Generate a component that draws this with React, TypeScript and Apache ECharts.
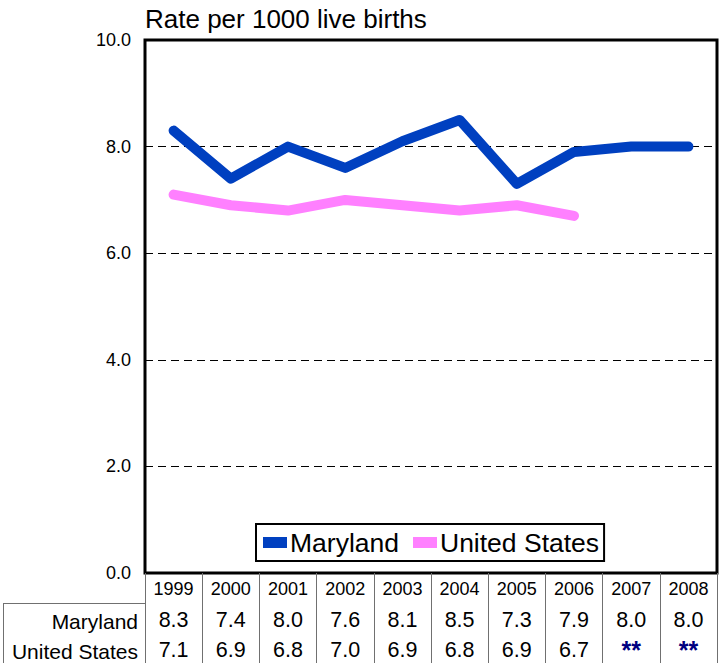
import React, { useEffect, useRef } from "react";
import * as echarts from "echarts";

const years = ["1999", "2000", "2001", "2002", "2003", "2004", "2005", "2006", "2007", "2008"];
const maryland = [8.3, 7.4, 8.0, 7.6, 8.1, 8.5, 7.3, 7.9, 8.0, 8.0];
const unitedStates: (number | null)[] = [7.1, 6.9, 6.8, 7.0, 6.9, 6.8, 6.9, 6.7, null, null];
const yTicks = { min: 0, max: 10, interval: 2 };
const titleText = "Rate per 1000 live births";
const seriesNames = ["Maryland", "United States"];

const FONT = "'Liberation Sans', Arial, sans-serif";

export default function App() {
  const ref = useRef<HTMLDivElement>(null);
  useEffect(() => {
    if (!ref.current) return;
    const chart = echarts.init(ref.current, undefined, { renderer: "svg" });
    const fmt = (v: number | null) => (v == null ? "{star|**}" : v.toFixed(1));
    const valueAxis = (data: string[], offset: number) => ({
      type: "category",
      data,
      position: "bottom",
      offset,
      gridIndex: 0,
      axisLine: { show: false },
      axisTick: { show: false },
      axisLabel: {
        interval: 0,
        margin: 6,
        fontSize: 21.5,
        color: "#000",
        fontFamily: FONT,
        rich: {
          star: { color: "#000080", fontWeight: "bold", fontSize: 25, lineHeight: 19, padding: [3, 0, 0, 0], fontFamily: FONT },
        },
      },
    });
    chart.setOption({
      animation: false,
      textStyle: { fontFamily: FONT },
      title: {
        text: titleText,
        left: 145,
        top: 6,
        padding: 0,
        textStyle: { fontSize: 26, fontWeight: "normal", color: "#000", fontFamily: FONT },
      },
      grid: {
        left: 145,
        right: 3,
        top: 40,
        bottom: 90,
        show: true,
        containLabel: false,
        outerBoundsMode: "none",
        borderColor: "#000",
        borderWidth: 3,
        backgroundColor: "transparent",
      },
      legend: {
        left: 256,
        top: 524,
        orient: "horizontal",
        data: seriesNames,
        icon: "rect",
        itemWidth: 24,
        itemHeight: 11,
        itemGap: 14,
        borderColor: "#000",
        borderWidth: 2,
        padding: [5, 5, 5, 7],
        backgroundColor: "#fff",
        textStyle: { fontSize: 26.5, color: "#000", fontFamily: FONT, padding: [0, 0, 0, -2] },
      },
      xAxis: [
        {
          type: "category",
          data: years,
          position: "bottom",
          boundaryGap: true,
          axisLine: { show: false },
          axisTick: { show: true, length: 90, lineStyle: { color: "#707070", width: 1 } },
          axisLabel: { interval: 0, margin: 7, fontSize: 18, color: "#000", fontFamily: FONT },
        },
        valueAxis(maryland.map(fmt), 30),
        valueAxis(unitedStates.map(fmt), 60),
      ],
      yAxis: {
        type: "value",
        min: yTicks.min,
        max: yTicks.max,
        interval: yTicks.interval,
        axisLine: { show: false },
        axisTick: { show: false },
        axisLabel: {
          formatter: (v: number) => v.toFixed(1),
          fontSize: 18,
          color: "#000",
          margin: 14,
          fontFamily: FONT,
        },
        splitLine: { lineStyle: { color: "#000", width: 1, type: [8, 5] } },
      },
      graphic: [
        { type: "line", shape: { x1: 3, y1: 603.5, x2: 145, y2: 603.5 }, style: { stroke: "#707070", lineWidth: 1 } },
        { type: "line", shape: { x1: 3.5, y1: 603, x2: 3.5, y2: 663 }, style: { stroke: "#707070", lineWidth: 1 } },
        {
          type: "text",
          x: 138,
          y: 621,
          style: { text: seriesNames[0], fontSize: 21, fill: "#000", align: "right", verticalAlign: "middle", fontFamily: FONT },
        },
        {
          type: "text",
          x: 138,
          y: 651,
          style: { text: seriesNames[1], fontSize: 21, fill: "#000", align: "right", verticalAlign: "middle", fontFamily: FONT },
        },
      ],
      series: [
        {
          name: seriesNames[0],
          type: "line",
          xAxisIndex: 0,
          data: maryland,
          showSymbol: false,
          color: "#0040C0",
          lineStyle: { width: 10, color: "#0040C0", cap: "round", join: "round" },
        },
        {
          name: seriesNames[1],
          type: "line",
          xAxisIndex: 0,
          data: unitedStates,
          showSymbol: false,
          color: "#FF80FF",
          lineStyle: { width: 10, color: "#FF80FF", cap: "round", join: "round" },
        },
      ],
    });
    return () => chart.dispose();
  }, []);
  return <div ref={ref} style={{ position: "absolute", left: 0, top: 0, width: 720, height: 663 }} />;
}
